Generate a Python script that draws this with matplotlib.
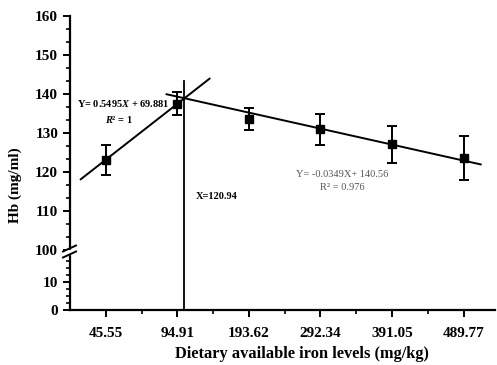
import matplotlib
matplotlib.use("Agg")
import matplotlib.pyplot as plt
from matplotlib.ticker import AutoMinorLocator, FixedLocator
import numpy as np

# data
iron_levels = ["45.55", "94.91", "193.62", "292.34", "391.05", "489.77"]
hb_mean = [123.0, 137.4, 133.6, 130.9, 127.0, 123.5]
hb_err = [3.8, 2.9, 2.8, 4.0, 4.7, 5.7]

# fitted lines drawn in category-position units (slope, intercept, x range)
fit1 = (14.3, 108.8, [0.65, 2.45])
fit2 = (-4.09, 147.42, [1.85, 6.24])
eq1_text = "Y= 0.5495$\\mathit{X}$ + 69.881"
r1_text = "$\\mathit{R}$² = 1"
eq2_text = "Y= -0.0349X+ 140.56"
r2_text = "R² = 0.976"
break_text = "X=120.94"

plt.rcParams['font.family'] = ['Liberation Serif', 'DejaVu Serif']
plt.rcParams['mathtext.fontset'] = 'custom'
plt.rcParams['mathtext.it'] = 'Liberation Serif:italic:bold'
plt.rcParams['mathtext.rm'] = 'Liberation Serif:bold'

fig = plt.figure(figsize=(4.97, 3.65), dpi=100)
left, width = 70 / 497, 425 / 497
ax_top = fig.add_axes([left, 1 - 250 / 365, width, (250 - 15.5) / 365])
ax_bot = fig.add_axes([left, 1 - 310 / 365, width, (310 - 254) / 365])

x = np.arange(1, len(iron_levels) + 1)
xlim = (0.5, 6.44)

for ax in (ax_top, ax_bot):
    ax.errorbar(x, hb_mean, yerr=hb_err, fmt='s', color='black', ms=6,
                capsize=3.5, elinewidth=1.4, capthick=1.4)
    for s, b, xr in (fit1, fit2):
        xr = np.array(xr)
        ax.plot(xr, s * xr + b, color='black', lw=1.4)
    ax.set_xlim(*xlim)
    for sp in ('top', 'right'):
        ax.spines[sp].set_visible(False)
    ax.spines['left'].set_linewidth(1.6)
    ax.spines['bottom'].set_linewidth(1.6)
    ax.tick_params(which='major', direction='out', length=5, width=1.4, labelsize=11)
    ax.tick_params(which='minor', direction='out', length=3, width=1.2)

ax_top.set_ylim(100, 160)
ax_top.set_yticks([100, 110, 120, 130, 140, 150, 160])
ax_top.yaxis.set_minor_locator(AutoMinorLocator(3))
ax_top.spines['bottom'].set_visible(False)
ax_top.tick_params(axis='x', which='both', bottom=False, labelbottom=False)

ax_bot.set_ylim(0, 20)
ax_bot.set_yticks([0, 10])
ax_bot.yaxis.set_minor_locator(FixedLocator([2.5, 5, 7.5, 12.5, 15, 17.5]))
ax_bot.set_xticks(x)
ax_bot.set_xticklabels(iron_levels)
ax_bot.xaxis.set_minor_locator(FixedLocator(x[:-1] + 0.5))
ax_bot.tick_params(axis='x', pad=7)
for lab in ax_bot.get_yticklabels() + ax_bot.get_xticklabels() + ax_top.get_yticklabels():
    lab.set_fontweight('bold')

# intersection of the two fits -> vertical line from x axis through both panels
xi = (fit2[1] - fit1[1]) / (fit1[0] - fit2[0])
inv = fig.transFigure.inverted()
p0 = inv.transform(ax_bot.transData.transform((xi, 0)))
p1 = inv.transform(ax_top.transData.transform((xi, 143.2)))
fig.add_artist(plt.Line2D([p0[0], p1[0]], [p0[1], p1[1]], color='black', lw=1.3))

# break marks on the y axis
fig.add_artist(plt.Rectangle((66 / 497, 1 - 254 / 365), 8 / 497, 4 / 365,
                             color='white', zorder=5))
for yy in (248.5, 254.5):
    y0 = 1 - (yy + 3) / 365
    y1 = 1 - (yy - 3) / 365
    fig.add_artist(plt.Line2D([63 / 497, 76 / 497], [y0, y1], color='black', lw=1.4, zorder=6))

ax_top.text(1.25, 137.6, eq1_text, ha='center', va='center', fontsize=7.5, fontweight='bold')
ax_top.text(1.18, 133.3, r1_text, ha='center', va='center', fontsize=7.5, fontweight='bold')
ax_top.text(4.30, 119.2, eq2_text, ha='center', va='center', fontsize=7.5, color='#555555')
ax_top.text(4.30, 116.1, r2_text, ha='center', va='center', fontsize=7.5, color='#555555')
ax_top.text(2.26, 113.8, break_text, ha='left', va='center', fontsize=7.5, fontweight='bold')

fig.text(15 / 497, 1 - 185 / 365, "Hb (mg/ml)", rotation=90, ha='center', va='center',
         fontsize=11, fontweight='bold')
fig.text(301.5 / 497, 1 - 354 / 365, "Dietary available iron levels (mg/kg)", ha='center',
         va='center', fontsize=11.8, fontweight='bold')

fig.savefig("out.png", dpi=100)
